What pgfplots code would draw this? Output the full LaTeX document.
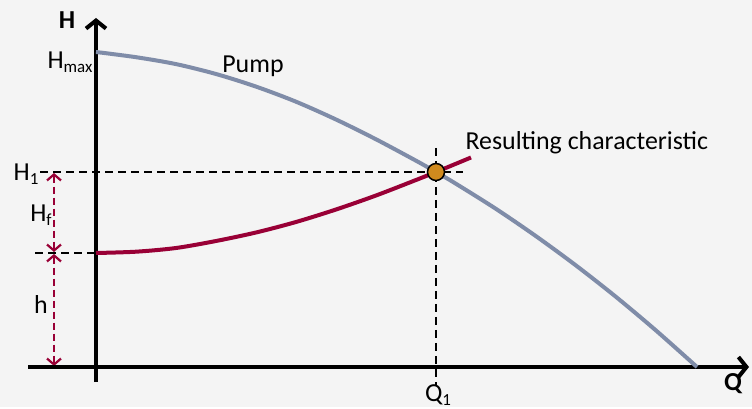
\documentclass[border=0pt]{standalone}
\usepackage{pgfplots}
\pgfplotsset{compat=1.18}
\usepackage{fontspec}
\setmainfont{Carlito}
\usetikzlibrary{arrows.meta}
\definecolor{bg}{HTML}{F4F4F4}
\definecolor{pump}{HTML}{7F8CA8}
\definecolor{sys}{HTML}{990036}
\definecolor{dot}{HTML}{D08A1E}
\newcommand\lf{\fontsize{26}{30}\selectfont}
\newcommand\sub[1]{\raisebox{-0.35ex}{\fontsize{17}{17}\selectfont #1}}
\begin{document}
\begin{tikzpicture}
\begin{axis}[width=752bp,height=407bp,scale only axis,
  xmin=0,xmax=752,ymin=0,ymax=407,hide axis,clip=false]
\fill[bg] (axis cs:0,0) rectangle (axis cs:752,407);
% dashed guides
\addplot[black,line width=2bp,dash pattern=on 8bp off 5bp] coordinates {(40,235)(463,235)};
\addplot[black,line width=2bp,dash pattern=on 8bp off 5bp] coordinates {(35,154)(96,154)};
\addplot[black,line width=2bp,dash pattern=on 8bp off 5bp] coordinates {(436,259)(436,22)};
% red dimension arrows
\addplot[sys,line width=2.2bp,dash pattern=on 7bp off 4bp,{Straight Barb[length=6bp,width=14bp]}-{Straight Barb[length=6bp,width=14bp]}] coordinates {(54,234)(54,155)};
\addplot[sys,line width=2.2bp,dash pattern=on 7bp off 4bp,{Straight Barb[length=6bp,width=14bp]}-{Straight Barb[length=6bp,width=14bp]}] coordinates {(54,153)(54,41)};
% axes
\addplot[black,line width=4bp,-{Straight Barb[length=8bp,width=20bp]}] coordinates {(96,25)(96,389)};
\addplot[black,line width=4bp,-{Straight Barb[length=8bp,width=20bp]}] coordinates {(28,40)(749,40)};
% pump curve
\addplot[pump,line width=4bp,smooth] coordinates {(96,355)(136,349.8)(176,342.9)(216,333)(256,320.4)(296,305.3)(336,287.5)(376,267.7)(416,246.3)(436,235)(456,223.2)(496,198.1)(536,170.8)(576,141.5)(616,110.1)(656,76.5)(697,40)};
% resulting characteristic
\addplot[sys,line width=4bp,smooth] coordinates {(96,154)(136,155.3)(176,159)(216,166)(256,174.5)(296,185)(336,197.5)(376,211.5)(416,227)(436,235)(471,249.5)};
% operating point
\addplot[only marks,mark=*,mark size=8.5bp,mark options={fill=dot,draw=black,line width=1.5bp}] coordinates {(436,235)};
% labels
\node[font=\lf\bfseries] at (axis cs:67,387) {H};
\node[font=\lf] at (axis cs:70,345) {H\sub{max}};
\node[font=\lf] at (axis cs:253,341) {Pump};
\node[font=\lf,anchor=west] at (axis cs:462,264) {Resulting characteristic};
\node[font=\lf] at (axis cs:26,233) {H\sub{1}};
\node[font=\lf] at (axis cs:41,192) {H\sub{f}};
\node[font=\lf] at (axis cs:41,102) {h};
\node[font=\lf] at (axis cs:438,12) {Q\sub{1}};
\node[font=\lf\bfseries] at (axis cs:733,23) {Q};
\end{axis}
\end{tikzpicture}
\end{document}
